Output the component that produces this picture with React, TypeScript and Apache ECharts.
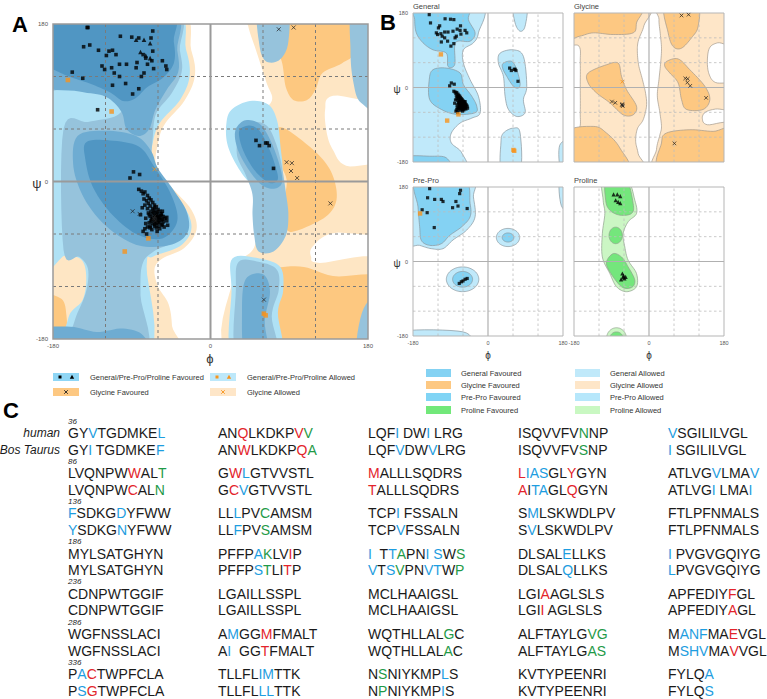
import React, { useEffect, useRef } from "react";
import * as echarts from "echarts";

type Pt = [number, number];
type Poly = Pt[];

const FONT = "'Liberation Sans', Arial, Helvetica, sans-serif";

/* ---------------- residue (phi, psi) values ---------------- */
const generalBeta: Pt[] = [
  [-141, 176], [-138, 156], [-116, 149], [-103, 166], [-90, 165], [-82, 164], [-66, 149], [-67, 138],
  [-55, 138], [-51, 132], [-74, 141], [-124, 132], [-121, 128], [-113, 130], [-104, 134], [-96, 134],
  [-84, 136], [-76, 124], [-65, 129], [-104, 120], [-97, 112], [-89, 100], [-82, 106], [-79, 120],
  [-110, 124], [-119, 144], [-112, 110],
];
const generalAlpha: Pt[] = [
  [-88, 11], [-92, 4], [-81, 8],
  [-82, -9], [-79, -11], [-77, -14], [-75, -12], [-72, -16], [-70, -19], [-76, -20], [-73, -22],
  [-68, -21], [-66, -24], [-71, -25], [-75, -27], [-64, -27], [-69, -28], [-62, -29], [-66, -31],
  [-72, -31], [-60, -32], [-64, -33], [-68, -34], [-58, -34], [-62, -36], [-66, -37], [-56, -37],
  [-60, -38], [-64, -39], [-70, -38], [-54, -40], [-58, -41], [-62, -42], [-66, -41], [-52, -42],
  [-56, -44], [-60, -45], [-64, -44], [-68, -45], [-54, -46], [-58, -47], [-62, -48], [-66, -48],
  [-70, -47], [-56, -50], [-60, -51], [-64, -51], [-53, -52], [-58, -54], [-62, -53], [-67, -55],
  [-72, -52], [-75, -54], [-77, -57], [-73, -60], [-61, -57], [-55, -49], [-50, -45], [-49, -50],
  [-74, -42], [-71, -36], [-78, -30], [-80, -38], [-74, -48], [-69, -51], [-59, -43], [-63, -46],
  [-57, -39], [-67, -43], [-65, -35], [-61, -40], [-55, -34], [-69, -40],
];
const generalLeftHanded: Pt[] = [[52, 47], [56, 41], [63, 44], [65, 44], [67, 41], [72, 15]];
const generalAllowed: Pt[] = [[-113, 80], [-98, -80], [-71, -65], [61, -151], [63, -153]];
const preProFavoured: Pt[] = [
  [-140, 176], [-145, 154], [-128, 150], [-112, 150], [-108, 145], [-66, 172], [-68, 164], [-77, 145],
  [-85, 130], [-72, 134], [-50, 128], [-158, 125], [-146, 118], [-129, 82],
  [-69, -53], [-64, -49], [-60, -47], [-55, -43], [-50, -41],
];
const preProAllowed: Pt[] = [[-163, 116]];
const prolineFavoured: Pt[] = [
  [-85, 162], [-76, 162], [-69, 158], [-80, 148], [-74, 144], [-69, 141],
  [-64, -29], [-61, -34], [-56, -37], [-59, -41], [-67, -43], [-62, -38],
];
const glycineFavoured: Pt[] = [
  [78, 174], [95, 176], [87, 22], [93, 21], [92, 12], [99, 4], [137, -25], [61, -135],
  [-89, -34], [-81, -37], [-64, -40], [-64, -43], [-63, -45], [-65, -42],
];
const glycineAllowed: Pt[] = [[-64, 14]];

/* ---------------- axes ---------------- */
const dashedGrid = [-120, -60, 60, 120];
const solidGrid = [0];

/* ---------------- contour regions (phi, psi outlines) ---------------- */
function ellipse(cx: number, cy: number, rx: number, ry: number): Poly {
  const out: Poly = [];
  for (let i = 0; i < 10; i++) {
    const a = (i / 10) * Math.PI * 2;
    out.push([cx + rx * Math.cos(a), cy + ry * Math.sin(a)]);
  }
  return out;
}

// Panel A (all residue types overlaid)
const aGlyAllowed: Poly[] = [
  [[-200, 200], [-42, 200], [-22, 150], [-18, 120], [-30, 92], [-52, 66], [-60, 44], [-62, 17], [-45, -6], [-22, -32], [-16, -55], [-30, -76], [-55, -88], [-64, -100], [-60, -120], [-48, -140], [-44, -165], [-44, -200], [-200, -200]],
  [[42, 200], [200, 200], [200, 100], [140, 98], [131, 82], [133, 55], [140, 36], [155, 18], [200, 14], [200, -55], [140, -59], [117, -74], [115, -86], [125, -93], [200, -93], [200, -200], [25, -200], [26, -110], [35, -90], [50, -75], [55, -40], [55, 0], [50, 40], [50, 70], [70, 92], [64, 113], [52, 150], [43, 178]],
];
const aGlyFavoured: Poly[] = [
  [[70, 200], [165, 200], [165, 150], [150, 135], [128, 124], [120, 105], [110, 93], [95, 93], [86, 108], [82, 135], [74, 160]],
  [[79, 62], [94, 55], [125, 29], [140, 6], [144, -21], [132, -40], [102, -55], [87, -55], [83, -28], [87, 2], [75, 29], [71, 55]],
  [[62, -103], [102, -97], [140, -108], [200, -114], [200, -200], [52, -200], [52, -124]],
  [[-92, -108], [-81, -103], [-72, -125], [-70, -140], [-70, -200], [-90, -200], [-92, -140]],
  [[-200, -131], [-172, -133], [-165, -150], [-168, -172], [-200, -175]],
];
const aBlueOuter: Poly[] = [
  [[-200, 200], [-47, 200], [-28, 151], [-24, 120], [-35, 93], [-58, 67], [-66, 44], [-68, 17], [-50, -6], [-28, -32], [-22, -55], [-35, -74], [-66, -86], [-73, -97], [-73, -200], [-200, -200], [-200, -178], [-170, -172], [-160, -150], [-146, -135], [-142, -110], [-147, -90], [-165, -84], [-200, -84]],
  [[18, 65], [24, 82], [45, 92], [66, 88], [76, 70], [80, 40], [82, 10], [72, -8], [50, -5], [34, 12], [20, 40]],
  [[25, -88], [56, -88], [80, -98], [83, -125], [77, -150], [80, -200], [25, -200], [24, -125]],
];
const aBlueMid: Poly[] = [
  [[-200, 200], [-45, 200], [-35, 150], [-33, 125], [-45, 100], [-62, 78], [-66, 50], [-66, 25], [-52, 0], [-35, -25], [-28, -50], [-40, -68], [-65, -80], [-78, -95], [-80, -130], [-78, -200], [-200, -200], [-200, -180], [-165, -176], [-152, -150], [-142, -125], [-140, -100], [-150, -86], [-168, -78], [-168, 60], [-140, 68], [-110, 74], [-100, 85], [-108, 100], [-135, 104], [-165, 106], [-200, 110]],
  [[35, 62], [52, 68], [66, 62], [76, 40], [82, 15], [86, -12], [89, -38], [86, -62], [72, -80], [55, -80], [50, -62], [48, -38], [48, -15], [40, 8], [30, 32]],
  [[32, -92], [56, -92], [76, -101], [78, -124], [70, -154], [76, -200], [30, -200], [29, -124]],
  [[55, 200], [87, 200], [89, 160], [80, 140], [64, 137], [56, 155]],
  [[163, 200], [200, 200], [200, 85], [172, 90], [163, 115], [160, 150]],
  [[168, -200], [200, -200], [200, -130], [175, -145]],
];
const aBlueInner: Poly[] = [
  [[-200, 200], [-48, 200], [-38, 150], [-37, 125], [-50, 105], [-63, 82], [-70, 60], [-82, 52], [-96, 60], [-102, 80], [-120, 97], [-150, 103], [-200, 116]],
  [[-152, 52], [-120, 58], [-85, 52], [-68, 35], [-60, 15], [-42, -10], [-27, -35], [-26, -58], [-44, -72], [-78, -74], [-105, -62], [-130, -40], [-148, -12], [-157, 20]],
  [[30, 62], [40, 70], [56, 66], [68, 48], [78, 22], [82, 0], [74, -8], [60, -5], [46, 10], [33, 32], [28, 50]],
  [[-200, -200], [-76, -200], [-77, -176], [-100, -168], [-130, -172], [-160, -166], [-200, -170]],
  [[40, -112], [60, -106], [68, -126], [62, -160], [66, -200], [40, -200], [36, -150]],
];
const aBlueCore: Poly[] = [
  [[-200, 200], [-52, 200], [-42, 160], [-42, 135], [-55, 118], [-72, 108], [-86, 95], [-100, 92], [-115, 102], [-138, 112], [-162, 120], [-180, 128], [-200, 135]],
  [[-142, 45], [-115, 47], [-82, 40], [-65, 18], [-45, -15], [-38, -45], [-55, -65], [-85, -60], [-115, -35], [-135, -5], [-143, 25]],
  [[34, 60], [45, 64], [56, 58], [66, 40], [74, 18], [77, 3], [70, -2], [60, 3], [48, 16], [38, 34], [33, 50]],
];

// Panel B: General
const bGeneralAllowed: Poly[] = [
  [[-200, 200], [-19, 200], [-23, 132], [-35, 108], [-59, 91], [-59, 59], [-43, 19], [-23, -21], [-19, -62], [-39, -74], [-67, -86], [-88, -110], [-88, -134], [-63, -158], [-59, -200], [-200, -200]],
  [[61, 200], [93, 200], [89, 148], [77, 136], [65, 156]],
  [[29, 83], [61, 91], [85, 75], [93, 3], [85, -29], [89, -61], [69, -70], [49, -53], [41, -21], [37, 27], [25, 59]],
  [[37, -110], [61, -98], [77, -110], [77, -200], [33, -200], [31, -134]],
  [[172, -140], [200, -130], [200, -200], [175, -200]],
];
const bGeneralFavoured: Poly[] = [
  [[-174, 200], [-51, 200], [-47, 164], [-31, 132], [-43, 112], [-72, 112], [-80, 100], [-80, 55], [-96, 51], [-100, 83], [-132, 91], [-156, 108], [-172, 132], [-176, 164]],
  [[-132, 43], [-100, 47], [-67, 35], [-59, 7], [-39, -21], [-27, -45], [-31, -61], [-75, -65], [-112, -53], [-140, -29], [-141, 19]],
  [[37, 59], [57, 63], [69, 43], [77, 11], [73, -1], [61, 3], [45, 27], [35, 47]],
  [[-200, -168], [-140, -166], [-100, -170], [-95, -200], [-200, -200]],
];
// Panel B: Glycine
const bGlyAllowed: Poly[] = [
  [[-200, 200], [-6, 200], [-12, 150], [-25, 115], [-28, 90], [-25, 55], [-16, 20], [-8, -15], [-6, -45], [-14, -78], [-28, -100], [-32, -130], [-26, -160], [-22, -200], [-200, -200], [-200, -112], [-168, -100], [-165, -60], [-165, 0], [-165, 60], [-168, 100], [-200, 110]],
  [[30, 200], [200, 200], [200, 110], [165, 108], [145, 95], [140, 60], [145, 30], [160, 12], [200, 5], [200, -50], [160, -52], [135, -60], [128, -75], [140, -90], [200, -92], [200, -200], [20, -200], [18, -150], [26, -115], [30, -95], [26, -60], [20, -20], [24, 20], [28, 60], [30, 95], [27, 130], [24, 165]],
];
const bGlyFavoured: Poly[] = [
  [[-200, 200], [-26, 200], [-30, 156], [-38, 132], [-86, 128], [-134, 132], [-166, 124], [-200, 120]],
  [[39, 200], [114, 200], [118, 148], [102, 120], [78, 95], [58, 99], [46, 132]],
  [[-146, 35], [-102, 55], [-74, 59], [-66, 27], [-54, -5], [-30, -45], [-38, -66], [-62, -66], [-94, -37], [-126, -13], [-146, 11]],
  [[42, 63], [70, 69], [98, 43], [134, 3], [146, -29], [130, -53], [90, -53], [78, -29], [70, 11], [50, 35], [38, 51]],
  [[-200, -110], [-134, -94], [-102, -110], [-70, -146], [-54, -200], [-200, -200]],
  [[42, -110], [98, -102], [154, -106], [200, -102], [200, -200], [30, -200], [30, -134]],
];
// Panel B: Pre-Pro
const bPreProAllowed: Poly[] = [
  [[-200, 200], [-43, 200], [-35, 156], [-31, 108], [-51, 76], [-84, 52], [-108, 31], [-136, 31], [-164, 39], [-200, 51]],
  ellipse(48, 58, 28, 22),
  ellipse(-61, -43, 39, 30),
  [[-200, -168], [-60, -170], [-55, -200], [-200, -200]],
  [[172, 200], [200, 200], [200, 125], [176, 135]],
];
const bPreProFavoured: Poly[] = [
  [[-172, 200], [-59, 200], [-43, 140], [-43, 108], [-63, 84], [-92, 63], [-112, 43], [-140, 39], [-160, 51], [-164, 84], [-168, 132]],
  ellipse(48, 58, 14, 11),
  ellipse(-61, -43, 24, 19),
];
// Panel B: Proline
const bProAllowed: Poly[] = [
  [[-110, 200], [-54, 200], [-34, 148], [-30, 116], [-50, 96], [-62, 67], [-58, 35], [-50, 3], [-30, -29], [-30, -61], [-54, -73], [-78, -61], [-94, -29], [-112, 11], [-112, 67], [-106, 116], [-110, 148]],
  ellipse(-78, -186, 24, 26),
];
const bProFavoured: Poly[] = [
  [[-102, 200], [-56, 200], [-38, 140], [-42, 116], [-70, 112], [-94, 124], [-104, 148]],
  ellipse(-80, 63, 16, 20),
  [[-86, 19], [-66, 11], [-50, -13], [-34, -45], [-42, -63], [-66, -61], [-94, -25], [-102, -1]],
  ellipse(-78, -186, 16, 16),
];

/* ---------------- texts ---------------- */
const panelTitles = ["General", "Glycine", "Pre-Pro", "Proline"];
const legendA = ["General/Pre-Pro/Proline Favoured", "General/Pre-Pro/Proline Allowed", "Glycine Favoured", "Glycine Allowed"];
const legendB = [
  "General Favoured", "General Allowed", "Glycine Favoured", "Glycine Allowed",
  "Pre-Pro Favoured", "Pre-Pro Allowed", "Proline Favoured", "Proline Allowed",
];
const speciesLabels = ["human", "Bos Taurus"];
const blockStarts = [36, 86, 136, 186, 236, 286, 336];
const humanSeq = [
  ["GY{b|V}TGDMKE{b|L}", "AN{r|Q}LKDKP{r|V}{g|V}", "LQF{b|I} DW{b|I} LRG", "ISQVVFV{g|N}NP", "{b|V}SGILILVGL"],
  ["LVQNPW{r|W}AL{g|T}", "G{r|W}{b|L}GTVVSTL", "{r|M}ALLLSQDRS", "{r|L}{b|IAS}GL{r|Y}GYN", "ATLVG{b|V}LMA{b|V}"],
  ["{b|F}SDKG{b|D}YFWW", "LL{b|L}PV{g|C}AMSM", "TCP{b|I} FSSALN", "S{b|M}LSKWDLPV", "FTLPFNMALS"],
  ["MYLSATGHYN", "PFFP{b|A}{g|K}LV{r|I}P", "{b|I}  T{b|T}{g|A}PN{b|I} {b|S}W{g|S}", "DLSAL{b|E}LLKS", "{b|I} PVGVGQIYG"],
  ["CDNPWTGGIF", "LGAILLSSPL", "MCLHAAIGSL", "LGI{r|A}AGLSLS", "APFEDIY{r|F}GL"],
  ["WGFNSSLACI", "A{b|M}GG{r|M}FMALT", "WQTHLLAL{g|G}C", "ALFTAYLG{g|VG}", "M{b|ANF}MA{r|E}VGL"],
  ["P{b|A}{r|C}TWPFCLA", "TLLFL{b|IM}TTK", "N{g|S}NIYKMP{b|L}S", "KVTYPEENRI", "FYLQ{b|A}"],
];
const bosSeq = [
  ["GY{b|I} TGDMKE{b|F}", "AN{r|W}LKDKP{r|Q}{g|A}", "LQF{b|V}DW{b|V}LRG", "ISQVVFV{g|S}NP", "{b|I} SGILILVGL"],
  ["LVQNPW{r|C}AL{g|N}", "G{r|C}{b|V}GTVVSTL", "{r|T}ALLLSQDRS", "{r|A}I{b|TA}GL{r|Q}GYN", "ATLVG{b|I} LMA{b|I}"],
  ["{b|Y}SDKG{b|N}YFWW", "LL{b|F}PV{g|S}AMSM", "TCP{b|V}FSSALN", "S{b|V}LSKWDLPV", "FTLPFNMALS"],
  ["MYLSATGHYN", "PFFP{b|S}{g|T}LI{r|T}P", "{b|V}T{b|S}{g|V}PN{b|VT}W{g|P}", "DLSAL{b|Q}LLKS", "{b|L}PVGVGQIYG"],
  ["CDNPWTGGIF", "LGAILLSSPL", "MCLHAAIGSL", "LGI{r|I} AGLSLS", "APFEDIY{r|A}GL"],
  ["WGFNSSLACI", "A{b|I}  GG{r|T}FMALT", "WQTHLLAL{g|A}C", "ALFTAYLG{g|AS}", "M{b|SHV}MA{r|V}VGL"],
  ["P{b|S}{r|G}TWPFCLA", "TLLFL{b|LL}TTK", "N{g|P}NIYKMP{b|I}S", "KVTYPEENRI", "FYLQ{b|S}"],
];

/* ---------------- helpers ---------------- */
function smoothClosed(pts: number[][], seg = 8): number[][] {
  const n = pts.length;
  const out: number[][] = [];
  for (let i = 0; i < n; i++) {
    const p0 = pts[(i - 1 + n) % n], p1 = pts[i], p2 = pts[(i + 1) % n], p3 = pts[(i + 2) % n];
    for (let s = 0; s < seg; s++) {
      const t = s / seg, t2 = t * t, t3 = t2 * t;
      const f = (k: number) =>
        0.5 * (2 * p1[k] + (-p0[k] + p2[k]) * t + (2 * p0[k] - 5 * p1[k] + 4 * p2[k] - p3[k]) * t2 + (-p0[k] + 3 * p1[k] - 3 * p2[k] + p3[k]) * t3);
      out.push([f(0), f(1)]);
    }
  }
  return out;
}

type Layer = { polys: Poly[]; fill: string };

function regionSeries(idx: number, layers: Layer[], stroke: string | null) {
  const items: { pts: Poly; fill: string }[] = [];
  layers.forEach((l) => l.polys.forEach((p) => items.push({ pts: p, fill: l.fill })));
  return {
    type: "custom",
    xAxisIndex: idx,
    yAxisIndex: idx,
    z: 1,
    silent: true,
    clip: true,
    data: items.map(() => [0, 0]),
    renderItem: (params: any, api: any) => {
      const it = items[params.dataIndex];
      const px = it.pts.map((p) => api.coord(p));
      return {
        type: "polygon",
        shape: { points: smoothClosed(px) },
        style: { fill: it.fill, stroke: stroke || "none", lineWidth: stroke ? 0.7 : 0 },
      };
    },
  };
}

function gridSeries(idx: number, big: boolean) {
  const lines: { a: Pt; b: Pt; dash: boolean }[] = [];
  dashedGrid.forEach((v) => {
    lines.push({ a: [v, -180], b: [v, 180], dash: true });
    lines.push({ a: [-180, v], b: [180, v], dash: true });
  });
  solidGrid.forEach((v) => {
    lines.push({ a: [v, -180], b: [v, 180], dash: false });
    lines.push({ a: [-180, v], b: [180, v], dash: false });
  });
  return {
    type: "custom",
    xAxisIndex: idx,
    yAxisIndex: idx,
    z: 2,
    silent: true,
    clip: false,
    data: lines.map(() => [0, 0]).concat([[0, 0]]),
    renderItem: (params: any, api: any) => {
      if (params.dataIndex === lines.length) {
        const p1 = api.coord([-180, 180]);
        const p2 = api.coord([180, -180]);
        return {
          type: "rect",
          shape: { x: p1[0], y: p1[1], width: p2[0] - p1[0], height: p2[1] - p1[1] },
          style: { fill: "none", stroke: big ? "#9a9a9a" : "#b5b5b5", lineWidth: big ? 1.5 : 1 },
        };
      }
      const l = lines[params.dataIndex];
      const p1 = api.coord(l.a);
      const p2 = api.coord(l.b);
      return {
        type: "line",
        shape: { x1: p1[0], y1: p1[1], x2: p2[0], y2: p2[1] },
        style: l.dash
          ? { stroke: big ? "#7a7a7a" : "#bdbdbd", lineWidth: big ? 1 : 0.8, lineDash: big ? [3, 3] : [2.5, 2.5] }
          : { stroke: big ? "#9a9a9a" : "#b0b0b0", lineWidth: big ? 2 : 1.2 },
      };
    },
  };
}

const X_PATH = "path://M0,0L10,10M10,0L0,10";
const ORANGE = "#f7941d";

function scatter(idx: number, data: Pt[], kind: "sq" | "tri" | "osq" | "x" | "ox", big: boolean) {
  const base: any = { type: "scatter", xAxisIndex: idx, yAxisIndex: idx, z: 3, silent: true, data };
  if (kind === "sq") return { ...base, symbol: "rect", symbolSize: big ? 3.6 : 3.2, itemStyle: { color: "#000" } };
  if (kind === "tri") return { ...base, symbol: "triangle", symbolSize: big ? 4.6 : 4.2, itemStyle: { color: "#000" } };
  if (kind === "osq") return { ...base, symbol: "rect", symbolSize: big ? 4.6 : 4.4, itemStyle: { color: ORANGE } };
  if (kind === "x") return { ...base, symbol: X_PATH, symbolSize: big ? 4 : 3.6, itemStyle: { color: "none", borderColor: "#222", borderWidth: 0.9 } };
  return { ...base, symbol: X_PATH, symbolSize: big ? 4 : 3.6, itemStyle: { color: "none", borderColor: ORANGE, borderWidth: 1 } };
}

/* ---------------- layout ---------------- */
const panels = [
  { left: 53, top: 24, w: 315, h: 315, xl: true, yl: true, big: true },
  { left: 413, top: 13, w: 150, h: 149, xl: false, yl: true, big: false },
  { left: 574, top: 13, w: 150, h: 149, xl: false, yl: false, big: false },
  { left: 413, top: 187, w: 150, h: 149, xl: true, yl: true, big: false },
  { left: 574, top: 187, w: 150, h: 149, xl: true, yl: false, big: false },
];

const BLUE = "#1e9de0", RED = "#e3242b", GREEN = "#1f9a48", INK = "#1a1a1a";

function txt(x: number, y: number, text: string, size: number, extra: any = {}) {
  return {
    type: "text",
    x,
    y,
    silent: true,
    style: { text, fontSize: size, fontFamily: FONT, fill: "#333", verticalAlign: "middle", align: "left", ...extra },
  };
}

function markerSq(cx: number, cy: number, c: string, s = 3) {
  return { type: "rect", silent: true, shape: { x: cx - s / 2, y: cy - s / 2, width: s, height: s }, style: { fill: c } };
}
function markerTri(cx: number, cy: number, c: string) {
  return { type: "polygon", silent: true, shape: { points: [[cx, cy - 2.2], [cx + 2.2, cy + 1.8], [cx - 2.2, cy + 1.8]] }, style: { fill: c } };
}
function markerX(cx: number, cy: number, c: string) {
  const r = 1.8;
  return [
    { type: "line", silent: true, shape: { x1: cx - r, y1: cy - r, x2: cx + r, y2: cy + r }, style: { stroke: c, lineWidth: 0.9 } },
    { type: "line", silent: true, shape: { x1: cx - r, y1: cy + r, x2: cx + r, y2: cy - r }, style: { stroke: c, lineWidth: 0.9 } },
  ];
}
function swatch(x: number, y: number, w: number, fill: string) {
  return { type: "rect", silent: true, shape: { x, y: y - 4, width: w, height: 8 }, style: { fill } };
}

function buildGraphic() {
  const g: any[] = [];
  // panel letters
  g.push(txt(12, 24, "A", 22, { fontWeight: "bold", fill: "#000" }));
  g.push(txt(380, 22, "B", 22, { fontWeight: "bold", fill: "#000" }));
  g.push(txt(3, 410, "C", 22, { fontWeight: "bold", fill: "#000" }));
  // B titles
  g.push(txt(413, 6, panelTitles[0], 7.5, { fill: "#444" }));
  g.push(txt(574, 6, panelTitles[1], 7.5, { fill: "#444" }));
  g.push(txt(413, 180, panelTitles[2], 7.5, { fill: "#444" }));
  g.push(txt(574, 180, panelTitles[3], 7.5, { fill: "#444" }));
  // axis symbols
  g.push(txt(37, 183, "ψ", 13, { align: "center", fill: "#333" }));
  g.push(txt(210, 358, "ϕ", 13, { align: "center", fill: "#333" }));
  g.push(txt(397, 89, "ψ", 10, { align: "center", fill: "#333" }));
  g.push(txt(397, 263, "ψ", 10, { align: "center", fill: "#333" }));
  g.push(txt(488, 355, "ϕ", 10, { align: "center", fill: "#333" }));
  g.push(txt(649, 355, "ϕ", 10, { align: "center", fill: "#333" }));

  // legend A
  const ax = [53, 210];
  const ay = [377, 392];
  g.push(swatch(ax[0], ay[0], 26, "#8fd6f5"));
  g.push(markerSq(ax[0] + 7, ay[0], "#000"));
  g.push(markerTri(ax[0] + 19, ay[0], "#000"));
  g.push(swatch(ax[1], ay[0], 26, "#bde8fa"));
  g.push(markerSq(ax[1] + 7, ay[0], ORANGE));
  g.push(markerTri(ax[1] + 19, ay[0], ORANGE));
  g.push(swatch(ax[0], ay[1], 26, "#fdc882"));
  g.push(...markerX(ax[0] + 13, ay[1], "#222"));
  g.push(swatch(ax[1], ay[1], 26, "#fee6c8"));
  g.push(...markerX(ax[1] + 13, ay[1], ORANGE));
  legendA.forEach((t, i) => g.push(txt(ax[i % 2] + 37, ay[Math.floor(i / 2)], t, 7.5)));

  // legend B
  const bx = [426, 575];
  const by = [373, 385, 397, 410];
  const bCols = ["#84d2f3", "#c0e9fa", "#fdc882", "#fee6c8", "#80d4f5", "#b6e7fb", "#72e87a", "#c9f8c2"];
  legendB.forEach((t, i) => {
    const x = bx[i % 2];
    const y = by[Math.floor(i / 2)];
    g.push(swatch(x, y, 25, bCols[i]));
    g.push(txt(x + 35, y, t, 7.5));
  });

  // sequences
  const rich = {
    b: { fill: BLUE, fontSize: 14, fontFamily: FONT },
    r: { fill: RED, fontSize: 14, fontFamily: FONT },
    g: { fill: GREEN, fontSize: 14, fontFamily: FONT },
  };
  const x0 = 68, colStep = 150, y0 = 433, blockStep = 40.2, pairGap = 16.5;
  g.push(txt(60, y0, speciesLabels[0], 12, { align: "right", fontStyle: "italic", fill: INK }));
  g.push(txt(60, y0 + pairGap, speciesLabels[1], 12, { align: "right", fontStyle: "italic", fill: INK }));
  blockStarts.forEach((n, k) => {
    const y = y0 + k * blockStep;
    g.push(txt(x0, y - 11.9, String(n), 8, { fontStyle: "italic", fill: INK }));
    for (let c = 0; c < 5; c++) {
      g.push(txt(x0 + c * colStep, y, humanSeq[k][c], 14, { fill: INK, rich }));
      g.push(txt(x0 + c * colStep, y + pairGap, bosSeq[k][c], 14, { fill: INK, rich }));
    }
  });
  return g;
}

function buildOption() {
  const grid = panels.map((p) => ({ left: p.left, top: p.top, width: p.w, height: p.h, containLabel: false }));
  const xAxis = panels.map((p, i) => ({
    gridIndex: i, type: "value", min: -180, max: 180, interval: 180,
    axisLine: { show: false }, axisTick: { show: false }, splitLine: { show: false },
    axisLabel: { show: p.xl, fontSize: p.big ? 6 : 5.5, color: "#555", margin: 4, fontFamily: FONT, showMinLabel: true, showMaxLabel: true },
  }));
  const yAxis = panels.map((p, i) => ({
    gridIndex: i, type: "value", min: -180, max: 180, interval: 180,
    axisLine: { show: false }, axisTick: { show: false }, splitLine: { show: false },
    axisLabel: { show: p.yl, fontSize: p.big ? 6 : 5.5, color: "#555", margin: 5, fontFamily: FONT, showMinLabel: true, showMaxLabel: true },
  }));

  const series: any[] = [
    regionSeries(0, [
      { polys: aGlyAllowed, fill: "#fee6c4" },
      { polys: aGlyFavoured, fill: "#fdc880" },
      { polys: aBlueOuter, fill: "#afe1f5" },
      { polys: aBlueMid, fill: "#96c3dc" },
      { polys: aBlueInner, fill: "#6eacd2" },
      { polys: aBlueCore, fill: "#5096c3" },
    ], null),
    regionSeries(1, [
      { polys: bGeneralAllowed, fill: "#c0e9fa" },
      { polys: bGeneralFavoured, fill: "#84d2f3" },
    ], "#8a979e"),
    regionSeries(2, [
      { polys: bGlyAllowed, fill: "#fee6c8" },
      { polys: bGlyFavoured, fill: "#fdc882" },
    ], "#a39a8c"),
    regionSeries(3, [
      { polys: bPreProAllowed, fill: "#c0e9fa" },
      { polys: bPreProFavoured, fill: "#84d2f3" },
    ], "#8a979e"),
    regionSeries(4, [
      { polys: bProAllowed, fill: "#cbf6c4" },
      { polys: bProFavoured, fill: "#74e67c" },
    ], "#8fa08c"),
  ];
  panels.forEach((p, i) => series.push(gridSeries(i, p.big)));

  // Panel A: all residues
  series.push(scatter(0, [...generalBeta, ...generalAlpha, ...generalLeftHanded, ...preProFavoured], "sq", true));
  series.push(scatter(0, prolineFavoured, "tri", true));
  series.push(scatter(0, [...generalAllowed, ...preProAllowed], "osq", true));
  series.push(scatter(0, glycineFavoured, "x", true));
  series.push(scatter(0, glycineAllowed, "ox", true));
  // Panel B
  series.push(scatter(1, [...generalBeta, ...generalAlpha, ...generalLeftHanded], "sq", false));
  series.push(scatter(1, generalAllowed, "osq", false));
  series.push(scatter(2, glycineFavoured, "x", false));
  series.push(scatter(2, glycineAllowed, "ox", false));
  series.push(scatter(3, preProFavoured, "sq", false));
  series.push(scatter(3, preProAllowed, "osq", false));
  series.push(scatter(4, prolineFavoured, "tri", false));

  return {
    animation: false,
    backgroundColor: "#ffffff",
    textStyle: { fontFamily: FONT },
    grid,
    xAxis,
    yAxis,
    series,
    graphic: { elements: buildGraphic() },
  };
}

export default function App() {
  const ref = useRef<HTMLDivElement>(null);
  useEffect(() => {
    const chart = echarts.init(ref.current as HTMLDivElement, null, { renderer: "svg" });
    chart.setOption(buildOption() as any);
    return () => chart.dispose();
  }, []);
  return <div ref={ref} style={{ position: "absolute", left: 0, top: 0, width: 767, height: 699 }} />;
}
